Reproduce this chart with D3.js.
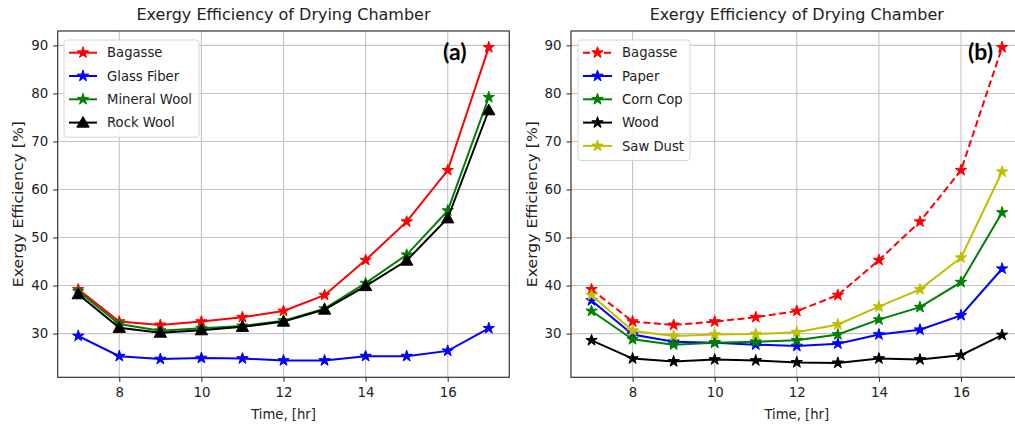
<!DOCTYPE html>
<html>
<head>
<meta charset="utf-8">
<script src="https://cdn.jsdelivr.net/npm/d3@7"></script>
<style>
  html, body { margin: 0; padding: 0; background: #fff; }
  svg { display: block; font-family: "DejaVu Sans", sans-serif; }
</style>
</head>
<body>
<div class="visContainer"></div>
<script>
// hours of the day
const hours = [7, 8, 9, 10, 11, 12, 13, 14, 15, 16, 17];
const xTicks = [8, 10, 12, 14, 16];
const yTicks = [30, 40, 50, 60, 70, 80, 90];

// panel (a) - insulation materials
const bagasse = [39.2, 32.5, 31.8, 32.5, 33.4, 34.7, 38.0, 45.3, 53.3, 64.0, 89.6];
const glassFiber = [29.5, 25.3, 24.7, 24.9, 24.8, 24.4, 24.4, 25.3, 25.3, 26.4, 31.1];
const mineralWool = [38.8, 32.0, 30.6, 31.1, 31.6, 32.7, 35.2, 40.5, 46.4, 55.6, 79.2];
const rockWool = [38.2, 31.2, 30.2, 30.7, 31.4, 32.5, 35.0, 39.9, 45.2, 54.0, 76.5];

// panel (b) - other materials
const paper = [36.9, 29.8, 28.3, 28.1, 27.7, 27.4, 27.9, 29.8, 30.8, 33.8, 43.5];
const cornCop = [34.7, 28.8, 27.7, 28.1, 28.3, 28.6, 29.8, 32.9, 35.5, 40.7, 55.2];
const wood = [28.6, 24.8, 24.2, 24.6, 24.4, 24.0, 23.9, 24.8, 24.6, 25.5, 29.7];
const sawDust = [38.0, 30.6, 29.5, 29.8, 29.9, 30.3, 31.9, 35.6, 39.2, 45.8, 63.7];

const titleText = 'Exergy Efficiency of Drying Chamber';
const xLabel = 'Time, [hr]';
const yLabel = 'Exergy Efficiency [%]';

const width = 1015;
const height = 427;
const textColor = '#222';

const svg = d3.select('.visContainer')
              .append('svg')
              .attr('width', width)
              .attr('height', height);

function drawPanel(p) {
    const x = d3.scaleLinear().domain([6.5, 17.5]).range([p.left, p.left + 451.6]);
    const y = d3.scaleLinear().domain([20.9, 93.0]).range([377.3, 31]);
    const right = Math.min(x(17.5), width + 5);

    const g = svg.append('g');

    // grid
    g.selectAll('.gx').data(xTicks).enter().append('line')
     .attr('x1', d => x(d)).attr('x2', d => x(d))
     .attr('y1', y(93.0)).attr('y2', y(20.9))
     .attr('stroke', '#c4c4c4').attr('stroke-width', 1.1);
    g.selectAll('.gy').data(yTicks).enter().append('line')
     .attr('x1', x(6.5)).attr('x2', right)
     .attr('y1', d => y(d)).attr('y2', d => y(d))
     .attr('stroke', '#c4c4c4').attr('stroke-width', 1.1);

    // axes
    const xAxis = d3.axisBottom(x).tickValues(xTicks).tickSize(4.5).tickPadding(6).tickFormat(d3.format('d'));
    const yAxis = d3.axisLeft(y).tickValues(yTicks).tickSize(4.5).tickPadding(5).tickFormat(d3.format('d'));
    const gx = g.append('g').attr('transform', `translate(0,${y(20.9)})`).call(xAxis);
    const gy = g.append('g').attr('transform', `translate(${x(6.5)},0)`).call(yAxis);
    [gx, gy].forEach(a => {
        a.select('.domain').remove();
        a.selectAll('.tick line').attr('stroke', textColor).attr('stroke-width', 1);
        a.selectAll('.tick text').attr('fill', textColor)
         .style('font-family', '"DejaVu Sans", sans-serif').style('font-size', '13.4px');
    });

    // frame
    g.append('rect')
     .attr('x', x(6.5)).attr('y', y(93.0))
     .attr('width', right - x(6.5)).attr('height', y(20.9) - y(93.0))
     .attr('fill', 'none').attr('stroke', '#333').attr('stroke-width', 1.2);

    // lines
    const line = d3.line().x((d, i) => x(hours[i])).y(d => y(d));
    p.series.forEach(s => {
        g.append('path').datum(s.values)
         .attr('d', line)
         .attr('fill', 'none')
         .attr('stroke', s.color)
         .attr('stroke-width', 2)
         .attr('stroke-dasharray', s.dash ? '7,3.5' : null);
        const sym = d3.symbol().type(s.marker === 'tri' ? d3.symbolTriangle : d3.symbolStar)
                      .size(s.marker === 'tri' ? 66 : 40);
        g.selectAll(null).data(s.values).enter().append('path')
         .attr('d', sym)
         .attr('transform', (d, i) => `translate(${x(hours[i])},${y(d) + (s.marker === 'tri' ? 1 : 0)})`)
         .attr('fill', s.color)
         .attr('stroke', s.color)
         .attr('stroke-width', 1);
    });

    // title and axis labels
    g.append('text')
     .attr('x', (p.left + p.left + 451.6) / 2).attr('y', 20)
     .attr('text-anchor', 'middle').attr('fill', textColor)
     .style('font-size', '16px')
     .text(titleText);
    g.append('text')
     .attr('x', (x(6.5) + x(17.5)) / 2).attr('y', 419)
     .attr('text-anchor', 'middle').attr('fill', textColor)
     .style('font-size', '13.2px')
     .text(xLabel);
    g.append('text')
     .attr('transform', `translate(${p.yLabelX},${(y(20.9) + y(93.0)) / 2}) rotate(-90)`)
     .attr('text-anchor', 'middle').attr('fill', textColor)
     .attr('textLength', 166)
     .attr('lengthAdjust', 'spacingAndGlyphs')
     .style('font-size', '13.4px')
     .text(yLabel);

    // legend
    const lg = g.append('g');
    lg.append('rect')
      .attr('x', p.legend.x).attr('y', 40)
      .attr('width', p.legend.w).attr('height', p.series.length * 23.3 + 4)
      .attr('rx', 3)
      .attr('fill', 'rgba(255,255,255,0.85)')
      .attr('stroke', '#d6d6d6').attr('stroke-width', 1);
    p.series.forEach((s, i) => {
        const cy = 52.7 + i * 23.3;
        lg.append('line')
          .attr('x1', p.legend.x + 5).attr('x2', p.legend.x + 5 + p.legend.h)
          .attr('y1', cy).attr('y2', cy)
          .attr('stroke', s.color).attr('stroke-width', 2)
          .attr('stroke-dasharray', s.dash ? '7,3.5' : null);
        const sym = d3.symbol().type(s.marker === 'tri' ? d3.symbolTriangle : d3.symbolStar)
                      .size(s.marker === 'tri' ? 66 : 40);
        lg.append('path')
          .attr('d', sym)
          .attr('transform', `translate(${p.legend.x + 5 + p.legend.h / 2},${cy + (s.marker === 'tri' ? 1 : 0)})`)
          .attr('fill', s.color).attr('stroke', s.color).attr('stroke-width', 1);
        lg.append('text')
          .attr('x', p.legend.x + p.legend.t).attr('y', cy).attr('dy', '0.36em')
          .attr('fill', textColor)
          .style('font-size', '13.2px')
          .text(s.name);
    });

    // panel tag
    g.append('text')
     .attr('x', p.tag.x).attr('y', 60)
     .attr('fill', '#000')
     .style('font-family', 'Lato, "Open Sans", sans-serif')
     .style('font-weight', 700)
     .style('font-size', '23px')
     .text(p.tag.text);
}

drawPanel({
    left: 57.7,
    yLabelX: 23,
    legend: { x: 64, w: 135, h: 28, t: 43 },
    tag: { x: 443, text: '(a)' },
    series: [
        { name: 'Bagasse', values: bagasse, color: '#ff0000', marker: 'star' },
        { name: 'Glass Fiber', values: glassFiber, color: '#0000ff', marker: 'star' },
        { name: 'Mineral Wool', values: mineralWool, color: '#008000', marker: 'star' },
        { name: 'Rock Wool', values: rockWool, color: '#000000', marker: 'tri' }
    ]
});

drawPanel({
    left: 571,
    yLabelX: 536.5,
    legend: { x: 578, w: 112, h: 29, t: 44 },
    tag: { x: 968, text: '(b)' },
    series: [
        { name: 'Bagasse', values: bagasse, color: '#ff0000', marker: 'star', dash: true },
        { name: 'Paper', values: paper, color: '#0000ff', marker: 'star' },
        { name: 'Corn Cop', values: cornCop, color: '#008000', marker: 'star' },
        { name: 'Wood', values: wood, color: '#000000', marker: 'star' },
        { name: 'Saw Dust', values: sawDust, color: '#bfbf00', marker: 'star' }
    ]
});
</script>
</body>
</html>
